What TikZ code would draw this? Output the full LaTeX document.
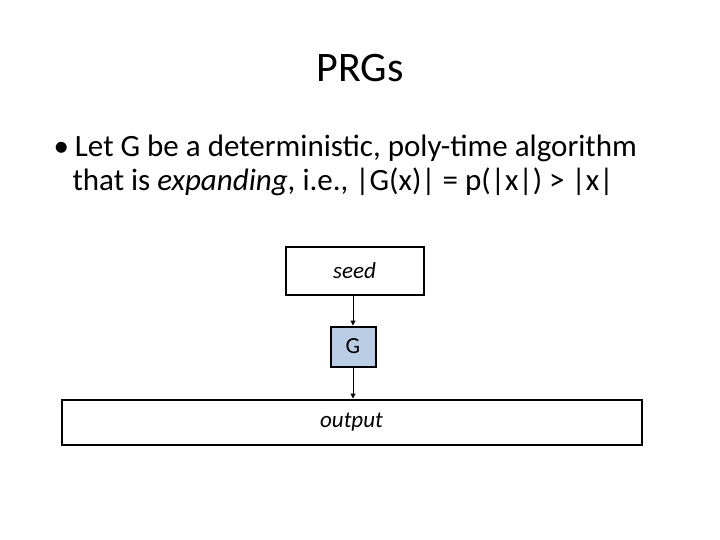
\documentclass[tikz,border=0pt]{standalone}
\usepackage{fontspec}
\setmainfont{Carlito}
\usetikzlibrary{arrows.meta}
\begin{document}
\begin{tikzpicture}[x=1pt,y=-1pt,
  box/.style={draw=black,line width=2pt,inner sep=0pt,font=\fontsize{23}{27}\selectfont},
  arr/.style={-{Triangle[length=5pt,width=5pt]},line width=1pt}]
\useasboundingbox (0,0) rectangle (720,540);
\node (title) at (360,68) {\fontsize{42}{48}\selectfont PRGs};
\node[anchor=west,align=left,font=\fontsize{31}{34}\selectfont] (b) at (50,165) {%
  \textbullet\hspace{6pt}Let G be a deterministic, poly-time algorithm\\
  \hspace{19pt}that is \textit{expanding}, i.e., |G(x)| = p(|x|) > |x|};
\node[box,minimum width=138pt,minimum height=48pt] (seed) at (354.5,270.5) {\itshape seed};
\node[box,fill={rgb,255:red,185;green,205;blue,229},minimum width=45pt,minimum height=40pt] (G) at (353,346.5) {G};
\node[box,minimum width=580pt,minimum height=45pt] (out) at (351.5,422) {\itshape output};
\draw[arr] (seed.south -| G) -- (G.north);
\draw[arr] (G.south) -- (G.south |- out.north);
\end{tikzpicture}
\end{document}
